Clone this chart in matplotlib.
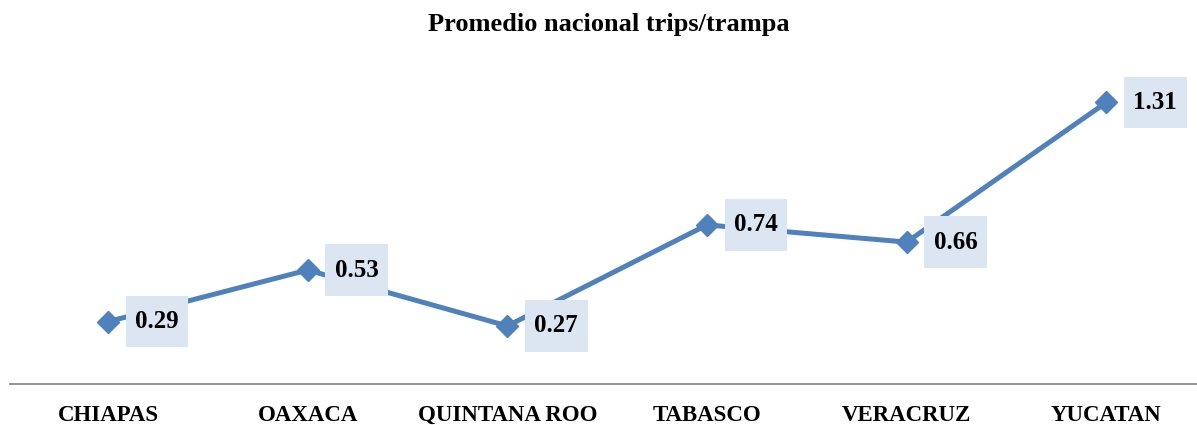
import matplotlib.pyplot as plt

estados = ["CHIAPAS", "OAXACA", "QUINTANA ROO", "TABASCO", "VERACRUZ", "YUCATAN"]
promedio = [0.29, 0.53, 0.27, 0.74, 0.66, 1.31]

plt.rcParams['font.family'] = ['Liberation Serif', 'DejaVu Serif']

fig = plt.figure(figsize=(11.97, 4.25), dpi=100)
ax = fig.add_axes([10 / 1197, 41 / 425, 1198 / 1197, 301 / 425])

x = list(range(len(estados)))
ax.plot(x, promedio, color='#4F81BD', lw=3.6, marker='D', ms=11,
        markerfacecolor='#4F81BD', markeredgecolor='#4F81BD', zorder=3,
        clip_on=False)

for xi, v in zip(x, promedio):
    ax.annotate(f"{v:.2f}", (xi, v), xytext=(27, 0), textcoords='offset pixels',
                ha='left', va='center', fontsize=18, fontweight='bold',
                bbox=dict(boxstyle='square,pad=0.38', fc='#DCE6F2', ec='none',
                          mutation_aspect=1.5),
                zorder=4)

ax.set_xlim(-0.491, len(estados) - 0.491)
ax.set_ylim(0, 1.4)
ax.set_xticks(x)
ax.set_xticklabels(estados, fontsize=16.5, fontweight='bold')
ax.tick_params(axis='x', length=0, pad=15)
ax.set_yticks([])
for s in ['top', 'right', 'left']:
    ax.spines[s].set_visible(False)
ax.spines['bottom'].set_color('#8C8C8C')
ax.spines['bottom'].set_linewidth(1.3)

fig.text(609 / 1197, 1 - 25 / 425, "Promedio nacional trips/trampa",
         ha='center', va='center', fontsize=19, fontweight='bold')

fig.savefig('out.png', dpi=100)
